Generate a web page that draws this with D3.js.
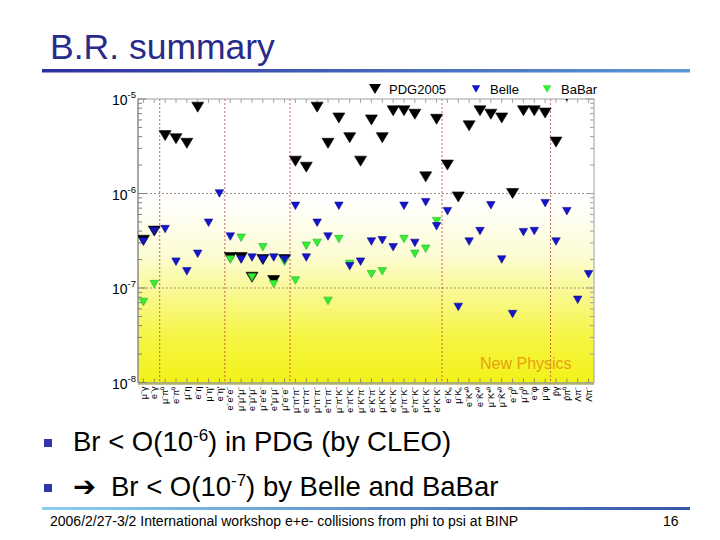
<!DOCTYPE html>
<html>
<head>
<meta charset="utf-8">
<script src="https://cdn.jsdelivr.net/npm/d3@7"></script>
<style>
  body { margin: 0; background: #fff; }
  text { font-family: "Liberation Sans", Arial, sans-serif; }
</style>
</head>
<body>
<svg id="chart"></svg>
<script>
// Decay modes (x categories)
const modes = [
  "μ⁻γ", "e⁻γ",
  "μ⁻π⁰", "e⁻π⁰", "μ⁻η", "e⁻η", "μ⁻η'", "e⁻η'",
  "e⁻e⁺e⁻", "μ⁻μ⁺μ⁻", "e⁻μ⁺μ⁻", "μ⁻e⁺e⁻", "e⁺μ⁻μ⁻", "μ⁺e⁻e⁻",
  "μ⁻π⁺π⁻", "e⁻π⁺π⁻", "μ⁺π⁻π⁻", "e⁺π⁻π⁻", "μ⁻π⁺K⁻", "e⁻π⁺K⁻", "μ⁻K⁺π⁻",
  "e⁻K⁺π⁻", "μ⁻K⁺K⁻", "e⁻K⁺K⁻", "μ⁺π⁻K⁻", "e⁺π⁻K⁻", "μ⁺K⁻K⁻", "e⁺K⁻K⁻",
  "e⁻Kₛ", "μ⁻Kₛ", "e⁻K*⁰", "e⁻K̄*⁰", "μ⁻K*⁰", "μ⁻K̄*⁰", "e⁻ρ⁰", "μ⁻ρ⁰", "e⁻φ", "μ⁻φ",
  "p̄γ", "p̄π⁰", "Λπ⁻", "Λ̄π⁻"
];

// upper limits
const pdg2005 = [3.2e-7, 4.0e-7, 4.1e-6, 3.8e-6, 3.4e-6, 8.2e-6, null, null,
  2.1e-7, 2.1e-7, 1.3e-7, 2.0e-7, 1.2e-7, 2.0e-7,
  2.2e-6, 1.9e-6, 8.2e-6, 3.4e-6, 6.3e-6, 3.9e-6, 2.2e-6, 6.0e-6, 3.9e-6, 7.5e-6, 7.5e-6, 6.9e-6, 1.5e-6, 6.1e-6,
  2.0e-6, 9.2e-7, 5.2e-6, 7.5e-6, 6.9e-6, 6.3e-6, 1.0e-6, 7.5e-6, 7.5e-6, 7.1e-6,
  3.5e-6, 1.08e-5, null, null];

const belle = [3.1e-7, 4.0e-7, 4.2e-7, 1.9e-7, 1.5e-7, 2.3e-7, 4.9e-7, 1.0e-6,
  3.5e-7, 2.0e-7, 2.1e-7, 2.0e-7, 2.1e-7, 2.0e-7,
  7.4e-7, 2.1e-7, 4.9e-7, 3.5e-7, 7.4e-7, 1.7e-7, 1.9e-7, 3.1e-7, 3.2e-7, 2.7e-7, 7.4e-7, 3.0e-7, 8.1e-7, 4.5e-7,
  6.5e-7, 6.3e-8, 3.1e-7, 4.0e-7, 7.5e-7, 2.0e-7, 5.3e-8, 3.9e-7, 4.0e-7, 7.9e-7,
  3.1e-7, 6.5e-7, 7.5e-8, 1.4e-7];

const babar = [7.1e-8, 1.1e-7, null, null, null, null, null, null,
  2.0e-7, 3.4e-7, 1.3e-7, 2.7e-7, 1.1e-7, 1.9e-7,
  1.2e-7, 2.8e-7, 3.0e-7, 7.3e-8, 3.3e-7, 1.8e-7, null, 1.4e-7, 1.5e-7, null, 3.3e-7, 2.3e-7, 2.6e-7, 5.1e-7,
  null, null, null, null, null, null, null, null, null, null,
  null, null, null, null];

// first mode of each group (red dotted separators)
const groupStarts = [2, 8, 14, 28, 38];
const decades = [1e-5, 1e-6, 1e-7, 1e-8];

const width = 720, height = 540;
const plot = { left: 138, right: 594, top: 99, bottom: 382.5 };

const svg = d3.select("#chart").attr("width", width).attr("height", height);

// Title and rule
svg.append("text").attr("x", 50).attr("y", 59)
  .style("font-size", "35.5px").attr("fill", "#2a2a8a").text("B.R. summary");

const defs = svg.append("defs");
const tg = defs.append("linearGradient").attr("id", "titleLine");
tg.append("stop").attr("offset", "0%").attr("stop-color", "#2e2e9e");
tg.append("stop").attr("offset", "100%").attr("stop-color", "#5a9ad6");
svg.append("rect").attr("x", 42).attr("y", 69).attr("width", 648).attr("height", 3.5)
  .attr("fill", "url(#titleLine)");

const fg = defs.append("linearGradient").attr("id", "footLine");
fg.append("stop").attr("offset", "0%").attr("stop-color", "#8cd0ee");
fg.append("stop").attr("offset", "100%").attr("stop-color", "#3456a8");
svg.append("rect").attr("x", 42).attr("y", 507).attr("width", 648).attr("height", 3)
  .attr("fill", "url(#footLine)");

// Plot background gradient
const bg = defs.append("linearGradient").attr("id", "bgGrad")
  .attr("x1", 0).attr("y1", 0).attr("x2", 0).attr("y2", 1);
[["0%", "#ffffff"], ["36%", "#ffffff"], ["55%", "#fcfcd4"], ["68%", "#f9f994"],
 ["84%", "#f5f544"], ["100%", "#f2f218"]].forEach(s =>
  bg.append("stop").attr("offset", s[0]).attr("stop-color", s[1]));

defs.append("clipPath").attr("id", "plotClip").append("rect")
  .attr("x", plot.left).attr("y", plot.top)
  .attr("width", plot.right - plot.left).attr("height", plot.bottom - plot.top);

// Scales
const x = d3.scaleBand().domain(modes).range([plot.left, plot.right]).padding(0);
const y = d3.scaleLog().domain([1e-8, 1e-5]).range([plot.bottom, plot.top]);
const cx = m => x(m) + x.bandwidth() / 2;

svg.append("rect").attr("x", plot.left).attr("y", plot.top)
  .attr("width", plot.right - plot.left).attr("height", plot.bottom - plot.top)
  .attr("fill", "url(#bgGrad)");

// Grid lines
svg.selectAll(".hgrid").data([1e-6, 1e-7]).enter().append("line")
  .attr("x1", plot.left).attr("x2", plot.right)
  .attr("y1", d => y(d)).attr("y2", d => y(d))
  .attr("stroke", "#8a7a60").attr("stroke-width", 0.8).attr("stroke-dasharray", "2,2");

svg.selectAll(".vgrid").data(groupStarts).enter().append("line")
  .attr("x1", d => x(modes[d])).attr("x2", d => x(modes[d]))
  .attr("y1", plot.top).attr("y2", plot.bottom)
  .attr("stroke", "#c04040").attr("stroke-width", 0.8).attr("stroke-dasharray", "2,2");

// Frame
svg.append("rect").attr("x", plot.left).attr("y", plot.top)
  .attr("width", plot.right - plot.left).attr("height", plot.bottom - plot.top)
  .attr("fill", "none").attr("stroke", "#a0a0a0").attr("stroke-width", 1);
svg.append("line").attr("x1", plot.left).attr("x2", plot.left)
  .attr("y1", plot.top).attr("y2", plot.bottom).attr("stroke", "#808080");
svg.append("line").attr("x1", plot.left).attr("x2", plot.right)
  .attr("y1", plot.bottom + 1).attr("y2", plot.bottom + 1)
  .attr("stroke", "#b0b070").attr("stroke-width", 2.5);

// Log ticks left and right
const minor = [];
[1e-8, 1e-7, 1e-6].forEach(d => { for (let k = 2; k <= 9; k++) minor.push(d * k); });
svg.selectAll(".ytick").data(minor.concat(decades)).enter().append("line")
  .attr("x1", plot.left).attr("x2", d => plot.left + (decades.includes(d) ? 8 : 4))
  .attr("y1", d => y(d)).attr("y2", d => y(d)).attr("stroke", "#808080");
svg.selectAll(".ytickr").data(minor.concat(decades)).enter().append("line")
  .attr("x1", plot.right).attr("x2", d => plot.right - (decades.includes(d) ? 8 : 4))
  .attr("y1", d => y(d)).attr("y2", d => y(d)).attr("stroke", "#a0a0a0");

// Category ticks top and bottom
svg.selectAll(".xtick").data(modes).enter().append("line")
  .attr("x1", cx).attr("x2", cx).attr("y1", plot.bottom).attr("y2", plot.bottom - 4)
  .attr("stroke", "#909060");
svg.selectAll(".xtickt").data(modes).enter().append("line")
  .attr("x1", cx).attr("x2", cx).attr("y1", plot.top).attr("y2", plot.top + 4)
  .attr("stroke", "#a0a0a0");

// Y labels
const yl = svg.selectAll(".ylab").data(decades).enter().append("text")
  .attr("x", 112).attr("y", d => y(d) + 6).style("font-size", "14px").attr("fill", "#000");
yl.append("tspan").text("10");
yl.append("tspan").attr("dy", -7).style("font-size", "9.5px").text(d => Math.round(Math.log10(d)));

// X labels (rotated)
svg.selectAll(".xlab").data(modes).enter().append("text")
  .attr("transform", d => `translate(${cx(d)},${plot.bottom + 4}) rotate(-90)`)
  .attr("text-anchor", "end").attr("dy", "0.35em")
  .style("font-size", "9px").attr("fill", "#000").text(d => d);

// Triangle marker
function tri(w, h) {
  return `M${-w / 2},${-h / 2}L${w / 2},${-h / 2}L0,${h / 2}Z`;
}

const markers = svg.append("g").attr("clip-path", "url(#plotClip)");
const series = [
  { vals: pdg2005, color: "#000000", w: 12, h: 10 },
  { vals: babar, color: "#33ee33", w: 8.5, h: 7.5 },
  { vals: belle, color: "#1414c8", w: 8.5, h: 7.5 }
];
series.forEach(s => {
  const pts = modes.map((m, i) => ({ m, v: s.vals[i] })).filter(d => d.v != null);
  markers.selectAll(null).data(pts).enter().append("path")
    .attr("d", tri(s.w, s.h))
    .attr("transform", d => `translate(${cx(d.m)},${y(d.v)})`)
    .attr("fill", s.color)
    .attr("stroke", s.color === "#000000" ? "#000" : d3.color(s.color).darker(0.8))
    .attr("stroke-width", 0.6);
});

// Legend
const legend = [
  { label: "PDG2005", color: "#000000", w: 12, h: 10, x: 375 },
  { label: "Belle", color: "#1414c8", w: 8.5, h: 7.5, x: 476 },
  { label: "BaBar", color: "#33ee33", w: 8.5, h: 7.5, x: 547 }
];
legend.forEach(l => {
  svg.append("path").attr("d", tri(l.w, l.h))
    .attr("transform", `translate(${l.x},89)`).attr("fill", l.color);
  svg.append("text").attr("x", l.x + 14).attr("y", 94)
    .style("font-size", "13px").attr("fill", "#000").text(l.label);
});

svg.append("text").attr("x", 480).attr("y", 369)
  .style("font-size", "16px").attr("fill", "#e8a010").text("New Physics");

// Bullets
svg.append("rect").attr("x", 44).attr("y", 439).attr("width", 8).attr("height", 8).attr("fill", "#3434b0");
svg.append("rect").attr("x", 44).attr("y", 484).attr("width", 8).attr("height", 8).attr("fill", "#3434b0");

const b1 = svg.append("text").attr("x", 73).attr("y", 451).style("font-size", "27.5px").attr("fill", "#000");
b1.append("tspan").text("Br < O(10");
b1.append("tspan").attr("dy", -10).style("font-size", "17px").text("-6");
b1.append("tspan").attr("dy", 10).text(") in PDG (by CLEO)");

const b2 = svg.append("text").attr("x", 73).attr("y", 496).style("font-size", "27.5px").attr("fill", "#000");
b2.append("tspan").style("font-family", "DejaVu Sans").style("font-weight", "bold").text("➔");
b2.append("tspan").attr("x", 111).text("Br < O(10");
b2.append("tspan").attr("dy", -10).style("font-size", "17px").text("-7");
b2.append("tspan").attr("dy", 10).text(") by Belle and BaBar");

// Footer
svg.append("text").attr("x", 50).attr("y", 526).style("font-size", "14px").attr("fill", "#000")
  .text("2006/2/27-3/2 International workshop e+e- collisions from phi to psi at BINP");
svg.append("text").attr("x", 663).attr("y", 526).style("font-size", "14px").attr("fill", "#000").text("16");
</script>
</body>
</html>
